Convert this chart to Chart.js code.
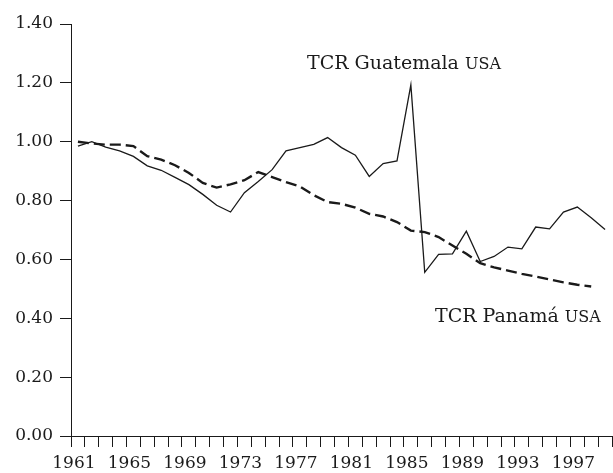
<!DOCTYPE html>
<html>
<head>
<meta charset="utf-8">
<script src="https://cdn.jsdelivr.net/npm/chart.js@4.4.1/dist/chart.umd.min.js"></script>
<style>
  body { margin: 0; background: #fff; }
  canvas { display: block; }
</style>
</head>
<body>
<canvas id="tcrChart" width="613" height="473"></canvas>
<script>
const years = [];
for (let y = 1961; y <= 1999; y++) years.push(String(y));

const guatemala = [
    0.985, 1.00, 0.982, 0.969, 0.950, 0.918, 0.903, 0.879, 0.854, 0.821,
    0.784, 0.761, 0.827, 0.865, 0.905, 0.969, 0.980, 0.991, 1.014, 0.980,
    0.954, 0.882, 0.926, 0.935, 1.193, 0.556, 0.617, 0.619, 0.696, 0.593,
    0.610, 0.642, 0.636, 0.710, 0.704, 0.761, 0.778, 0.742, 0.702
];

const panama = [
    1.00, 0.994, 0.990, 0.990, 0.985, 0.951, 0.939, 0.920, 0.894, 0.860,
    0.844, 0.855, 0.869, 0.897, 0.880, 0.863, 0.848, 0.818, 0.795, 0.789,
    0.776, 0.755, 0.746, 0.727, 0.698, 0.693, 0.676, 0.647, 0.619, 0.587,
    0.573, 0.562, 0.551, 0.542, 0.532, 0.522, 0.514, 0.508
];

const yTicks = [0, 0.2, 0.4, 0.6, 0.8, 1.0, 1.2, 1.4];

const serif = "'DejaVu Serif', serif";
const ink = '#1a1a1a';

// white background + text labels for the two series
const labelsPlugin = {
    id: 'seriesLabels',
    beforeDraw(chart) {
        const ctx = chart.ctx;
        ctx.save();
        ctx.fillStyle = '#fff';
        ctx.fillRect(0, 0, chart.width, chart.height);
        ctx.restore();
    },
    afterDraw(chart) {
        const ctx = chart.ctx;
        ctx.save();
        ctx.fillStyle = ink;
        ctx.textBaseline = 'alphabetic';
        ctx.textAlign = 'left';
        const drawLabel = (main, caps, x, y) => {
            ctx.font = '19px ' + serif;
            ctx.fillText(main, x, y);
            const w = ctx.measureText(main).width;
            ctx.font = '16px ' + serif;
            ctx.fillText(caps, x + w, y);
        };
        drawLabel('TCR Guatemala ', 'USA', 307, 69);
        drawLabel('TCR Panamá ', 'USA', 435, 322);
        ctx.restore();
    }
};

new Chart(document.getElementById('tcrChart'), {
    type: 'line',
    data: {
        labels: years,
        datasets: [{
            label: 'TCR Panamá USA',
            data: panama,
            borderColor: ink,
            borderWidth: 2.4,
            borderDash: [11, 5],
            pointRadius: 0,
            tension: 0,
            fill: false
        },
        {
            label: 'TCR Guatemala USA',
            data: guatemala,
            borderColor: ink,
            borderWidth: 1.3,
            pointRadius: 0,
            tension: 0,
            fill: false
        }]
    },
    options: {
        responsive: false,
        animation: false,
        layout: { padding: { top: 24, right: 1, left: 0, bottom: 0 } },
        plugins: {
            legend: { display: false },
            tooltip: { enabled: false }
        },
        scales: {
            x: {
                type: 'category',
                offset: true,
                afterFit(scale) { scale.height = 37; },
                grid: {
                    offset: true,
                    drawOnChartArea: false,
                    drawTicks: true,
                    tickLength: 11,
                    color: ink
                },
                border: { display: true, color: ink, width: 1 },
                ticks: {
                    autoSkip: false,
                    maxRotation: 0,
                    minRotation: 0,
                    padding: 6,
                    labelOffset: -4,
                    color: ink,
                    font: { family: serif, size: 17 },
                    callback(value, index) {
                        return index % 4 === 0 ? this.getLabelForValue(value) : '';
                    }
                }
            },
            y: {
                min: 0,
                max: 1.4,
                afterFit(scale) { scale.width = 71; },
                afterBuildTicks(scale) {
                    scale.ticks = yTicks.map(v => ({ value: v }));
                },
                grid: {
                    drawOnChartArea: false,
                    drawTicks: true,
                    tickLength: 11,
                    color: ink
                },
                border: { display: true, color: ink, width: 1 },
                ticks: {
                    padding: 7,
                    color: ink,
                    font: { family: serif, size: 17 },
                    callback(value) { return Number(value).toFixed(2); }
                }
            }
        }
    },
    plugins: [labelsPlugin]
});
</script>
</body>
</html>
